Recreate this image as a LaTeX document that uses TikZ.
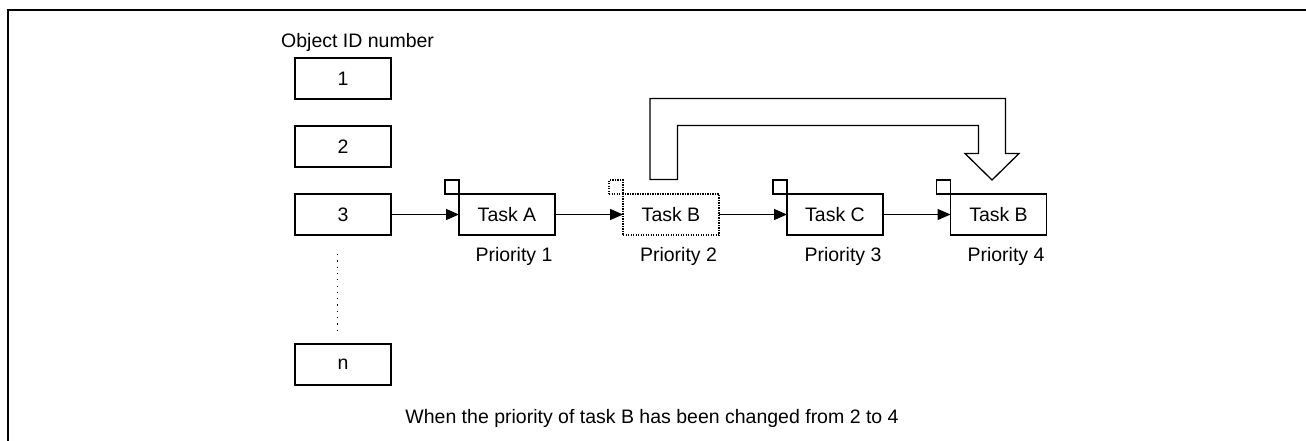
\documentclass[tikz,border=0pt]{standalone}
\usepackage{fontspec}
\setmainfont{Liberation Sans}
\usetikzlibrary{arrows.meta}
\begin{document}
\begin{tikzpicture}[x=1pt,y=-1pt,
  every node/.style={font=\fontsize{19.5}{22}\selectfont, inner sep=0pt},
  idbox/.style={draw, line width=1.3pt, outer sep=0pt, minimum width=96pt, minimum height=41pt},
  taskbox/.style={draw, line width=1.3pt, outer sep=0pt, minimum width=96pt, minimum height=41pt},
  dottask/.style={draw, line width=1.3pt, outer sep=0pt, dash pattern=on 1.2pt off 1.3pt, minimum width=96pt, minimum height=41pt},
  flagbox/.style={draw, line width=1.3pt, outer sep=0pt, minimum width=14pt, minimum height=14pt, anchor=south east},
  dotflag/.style={draw, line width=1.3pt, outer sep=0pt, dash pattern=on 1.2pt off 1.3pt, minimum width=14pt, minimum height=14pt, anchor=south east},
  link/.style={line width=1.3pt, -{Triangle[length=13pt,width=11pt]}},
  lbl/.style={anchor=center}
]
\useasboundingbox (0,0) rectangle (1306,441);
% outer frame (left and top only visible)
\draw[line width=2pt] (8,441) -- (8,10) -- (1306,10);

% Object IDs
\node[anchor=base west] (title) at (281,47.5) {Object ID number};
\node[idbox] (id1) at (343,78.5) {1};
\node[idbox] (id2) at (343,146.5) {2};
\node[idbox] (id3) at (343,214.5) {3};
\node[idbox] (idn) at (343,364.5) {n};
\coordinate (d1) at (337.5,254);
\coordinate (d2) at (337.5,330);
\draw[line width=1.3pt, dash pattern=on 1.2pt off 5.1pt] (d1) -- (d2);

% Tasks
\node[taskbox] (ta) at (507,214.5) {Task A};
\node[dottask] (tb) at (671,214.5) {Task B};
\node[taskbox] (tc) at (835,214.5) {Task C};
\node[taskbox] (tb4) at (998.5,214.5) {Task B};
\node[flagbox] (fa) at (ta.north west) {};
\node[dotflag] (fb) at (tb.north west) {};
\node[flagbox] (fc) at (tc.north west) {};
\node[flagbox] (fb4) at (tb4.north west) {};

% Priorities
\node[lbl] (pa) at (514,256) {Priority 1};
\node[lbl] (pb) at (678.5,256) {Priority 2};
\node[lbl] (pc) at (843,256) {Priority 3};
\node[lbl] (pd) at (1006,256) {Priority 4};

% links
\draw[link] (id3) -- (ta);
\draw[link] (ta) -- (tb);
\draw[link] (tb) -- (tc);
\draw[link] (tc) -- (tb4);

% big hollow arrow
\draw[line width=1.3pt, line join=miter]
  (650,179.5) -- (650,98.5) -- (1005.5,98.5) -- (1005.5,153.5) -- (1019,153.5)
  -- (992,180) -- (965,153.5) -- (978.5,153.5) -- (978.5,125.5) -- (677.5,125.5)
  -- (677.5,179.5) -- cycle;

% caption
\node[lbl] (cap) at (652,418) {When the priority of task B has been changed from 2 to 4};
\end{tikzpicture}
\end{document}
